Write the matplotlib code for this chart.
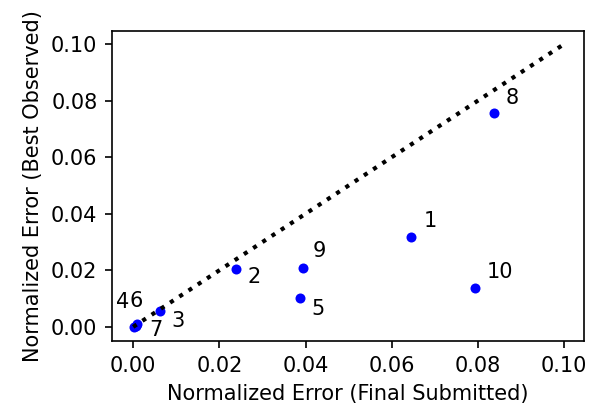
import matplotlib
matplotlib.use("Agg")
import matplotlib.pyplot as plt

# data
run_ids = ["1", "2", "3", "4", "5", "6", "7", "8", "9", "10"]
final_submitted = [0.0644, 0.0238, 0.0062, 0.0002, 0.0386, 0.0010, 0.0007, 0.0838, 0.0393, 0.0794]
best_observed = [0.0319, 0.0206, 0.0057, 0.0000, 0.0103, 0.0010, 0.0003, 0.0755, 0.0209, 0.0138]
diag = [0.0, 0.10]
xticks = [0.00, 0.02, 0.04, 0.06, 0.08, 0.10]
yticks = [0.00, 0.02, 0.04, 0.06, 0.08, 0.10]

# label offsets in points (style)
label_offsets = {
    "1": (9.0, 7.0), "2": (8.5, -10.5), "3": (8.0, -11.5), "4": (-13.0, 13.5),
    "5": (8.5, -12.5), "6": (-6.0, 12.0), "7": (9.5, -7.5), "8": (8.0, 6.5),
    "9": (7.2, 7.8), "10": (8.0, 7.0),
}

plt.rcParams["font.family"] = ["DejaVu Sans"]
fig = plt.figure(figsize=(5.96, 4.12), dpi=100)
ax = fig.add_axes([0.188, 0.1723, 0.792, 0.7525])

ax.scatter(final_submitted, best_observed, s=52, color="blue", zorder=2, linewidths=0)
ax.plot(diag, diag, linestyle=":", color="black", linewidth=3, zorder=3)

for rid, x, y in zip(run_ids, final_submitted, best_observed):
    ax.annotate(rid, (x, y), xytext=label_offsets[rid], textcoords="offset points",
                fontsize=15, ha="left", va="baseline")

ax.set_xticks(xticks)
ax.set_yticks(yticks)
ax.set_xticklabels([f"{t:.2f}" for t in xticks])
ax.set_yticklabels([f"{t:.2f}" for t in yticks])
ax.set_xlim(-0.0049, 0.1046)
ax.set_ylim(-0.005, 0.1046)
ax.tick_params(labelsize=15, length=5.25, width=1.2, pad=5.25)
for sp in ax.spines.values():
    sp.set_linewidth(1.2)
ax.set_xlabel("Normalized Error (Final Submitted)", fontsize=15, labelpad=6)
ax.set_ylabel("Normalized Error (Best Observed)", fontsize=15, labelpad=6)

fig.savefig("out.png", dpi=100)
